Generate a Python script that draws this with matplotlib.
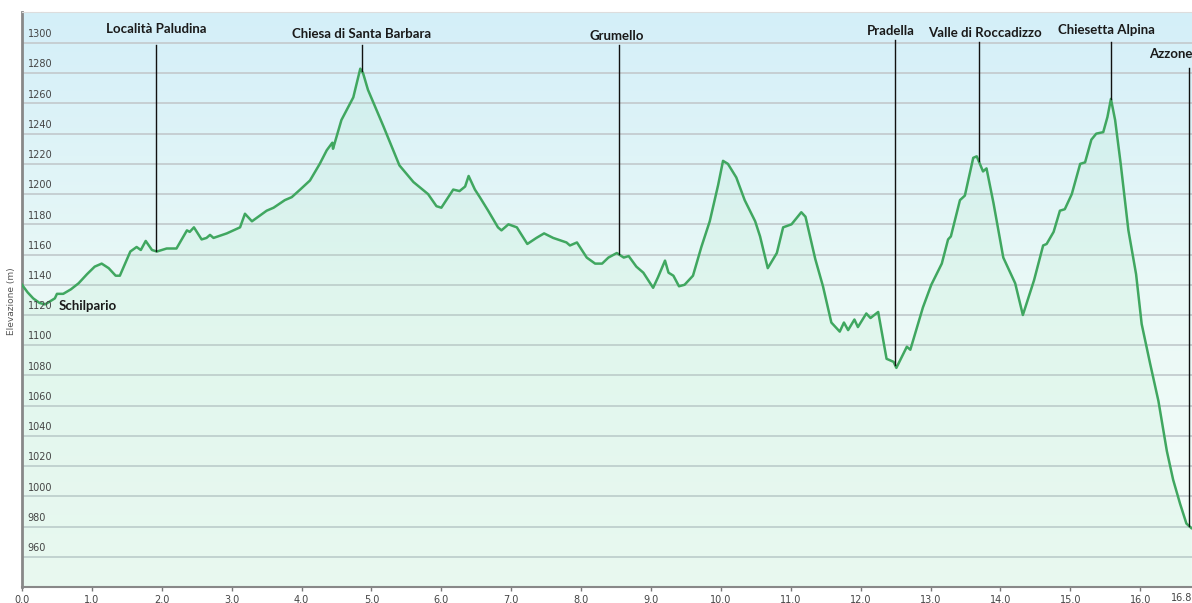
import numpy as np
import matplotlib
matplotlib.use("Agg")
import matplotlib.pyplot as plt
import matplotlib.transforms as mtransforms
from matplotlib.colors import LinearSegmentedColormap

# profilo altimetrico (km, m)
distanza = [0.00, 0.08, 0.16, 0.25, 0.33, 0.40, 0.47, 0.50, 0.59, 0.70, 0.81, 0.93, 1.04, 1.14, 1.24,
            1.34, 1.40, 1.55, 1.64, 1.70, 1.77, 1.86, 1.93, 2.07, 2.21, 2.36, 2.40, 2.46, 2.57, 2.64,
            2.69, 2.74, 2.93, 3.12, 3.19, 3.29, 3.50, 3.60, 3.76, 3.86, 3.98, 4.12, 4.26, 4.36, 4.44,
            4.45, 4.57, 4.74, 4.84, 4.88, 4.95, 5.17, 5.40, 5.60, 5.81, 5.93, 6.00, 6.17, 6.26, 6.34,
            6.39, 6.48, 6.55, 6.67, 6.81, 6.86, 6.96, 7.08, 7.23, 7.36, 7.47, 7.60, 7.79, 7.84, 7.94,
            8.08, 8.20, 8.30, 8.39, 8.51, 8.61, 8.68, 8.79, 8.89, 9.03, 9.10, 9.20, 9.25, 9.32, 9.40,
            9.48, 9.60, 9.72, 9.84, 9.96, 10.03, 10.10, 10.22, 10.34, 10.49, 10.56, 10.67, 10.80, 10.89,
            11.01, 11.15, 11.21, 11.35, 11.46, 11.58, 11.70, 11.76, 11.82, 11.91, 11.96, 12.08, 12.14,
            12.25, 12.37, 12.47, 12.51, 12.66, 12.71, 12.89, 13.01, 13.16, 13.25, 13.29, 13.42, 13.49,
            13.61, 13.66, 13.75, 13.80, 13.90, 14.04, 14.21, 14.32, 14.48, 14.61, 14.66, 14.76, 14.85,
            14.92, 15.02, 15.14, 15.21, 15.30, 15.37, 15.47, 15.53, 15.58, 15.64, 15.72, 15.83, 15.94,
            16.02, 16.14, 16.26, 16.38, 16.47, 16.57, 16.66, 16.73]
quota = [1140, 1135, 1131, 1128, 1127, 1129, 1131, 1134, 1134, 1137, 1141, 1147, 1152, 1154, 1151,
         1146, 1146, 1162, 1165, 1163, 1169, 1163, 1162, 1164, 1164, 1176, 1175, 1178, 1170, 1171,
         1173, 1171, 1174, 1178, 1187, 1182, 1189, 1191, 1196, 1198, 1203, 1209, 1220, 1229, 1234,
         1230, 1249, 1264, 1283, 1280, 1269, 1245, 1219, 1208, 1200, 1192, 1191, 1203, 1202, 1205,
         1212, 1203, 1198, 1189, 1178, 1176, 1180, 1178, 1167, 1171, 1174, 1171, 1168, 1166, 1168,
         1158, 1154, 1154, 1158, 1161, 1158, 1159, 1152, 1148, 1138, 1145, 1156, 1148, 1146, 1139,
         1140, 1146, 1165, 1182, 1206, 1222, 1220, 1211, 1196, 1182, 1172, 1151, 1161, 1178,
         1180, 1188, 1185, 1157, 1139, 1115, 1109, 1115, 1110, 1117, 1112, 1121, 1118,
         1122, 1091, 1089, 1085, 1099, 1097, 1125, 1140, 1154, 1170, 1172, 1196, 1199,
         1224, 1225, 1215, 1217, 1194, 1158, 1141, 1120, 1143, 1166, 1167, 1175, 1189,
         1190, 1200, 1220, 1221, 1236, 1240, 1241, 1251, 1263, 1249, 1220, 1176, 1147,
         1114, 1088, 1063, 1030, 1011, 995, 982, 979]

# punti di interesse
luoghi = ["Località Paludina", "Chiesa di Santa Barbara", "Grumello", "Pradella",
          "Valle di Roccadizzo", "Chiesetta Alpina", "Azzone"]
luoghi_km = [1.92, 4.86, 8.54, 12.49, 13.69, 15.58, 16.70]

y_ticks = list(range(960, 1301, 20))
x_ticks = [float(i) for i in range(17)]

# posizione delle etichette (x testo, y testo, cima della linea)
etichette_pos = [(1.92, 1309.3, 1298.7), (4.86, 1306.0, 1298.7), (8.51, 1304.6, 1298.7),
                 (12.43, 1308.0, 1302.0), (13.78, 1306.6, 1300.7), (15.51, 1308.6, 1300.7),
                 (16.44, 1292.7, 1283.5)]

plt.rcParams['font.family'] = ['Lato', 'DejaVu Sans']

fig = plt.figure(figsize=(11.92, 6.03), dpi=100)
ax = fig.add_axes([22 / 1192, 16 / 603, 1170 / 1192, 575 / 603])
ax.set_xlim(0, 16.74)
ax.set_ylim(940, 1320.5)

# sfondo sfumato
sfondo = LinearSegmentedColormap.from_list("sf", ["#f5fdf9", "#eaf9f6", "#d4eff9"])
grad = np.linspace(0, 1, 256).reshape(-1, 1)
ax.imshow(grad, cmap=sfondo, origin="lower", aspect="auto",
          extent=[0, 16.74, 940, 1320.5], zorder=0)

for v in y_ticks:
    ax.axhline(v, color="#c6cfd2", lw=1.4, zorder=1)

ax.fill_between(distanza, quota, 940, color="#a8e6bf", alpha=0.15, zorder=2, lw=0)
ax.plot(distanza, quota, color="#40a760", lw=1.8, zorder=3)

# linee verticali e nomi
for nome, km, pos in zip(luoghi, luoghi_km, etichette_pos):
    fondo = np.interp(km, distanza, quota)
    ax.plot([km, km], [pos[2], fondo], color="#111111", lw=1.0, zorder=4)
    ax.text(pos[0], pos[1], nome, ha="center", va="center", fontsize=9.5,
            fontweight="bold", color="#1a1a1a", zorder=5)
ax.text(0.52, 1126, "Schilpario", ha="left", va="center", fontsize=9.5,
        fontweight="bold", color="#1a1a1a", zorder=5)

# etichette asse y dentro il grafico
trans = mtransforms.blended_transform_factory(ax.transAxes, ax.transData)
for v in y_ticks:
    ax.text(0.005, v + 2.5, str(v), transform=trans, ha="left", va="bottom",
            fontsize=7, color="#444444", family="DejaVu Sans", zorder=5)
ax.set_yticks([])

ax.set_xticks(x_ticks)
ax.set_xticklabels([f"{t:.1f}" for t in x_ticks], fontsize=7, color="#444444",
                   family="DejaVu Sans")
ax.tick_params(axis="x", length=3, width=1, color="#777777", pad=3)
# ultima etichetta (fine percorso)
fig.text(1.0, (603 - 598) / 603, "16.8", ha="right", va="center", fontsize=7,
         color="#444444", family="DejaVu Sans")

fig.text(12 / 1192, 0.5, "Elevazione (m)", rotation=90, ha="center", va="center",
         fontsize=6.5, color="#555555", family="DejaVu Sans")

ax.spines["left"].set_color("#888888")
ax.spines["left"].set_linewidth(2)
ax.spines["bottom"].set_color("#888888")
ax.spines["bottom"].set_linewidth(1.5)
ax.spines["top"].set_color("#dddddd")
ax.spines["right"].set_visible(False)

plt.savefig("out.png", dpi=100)
